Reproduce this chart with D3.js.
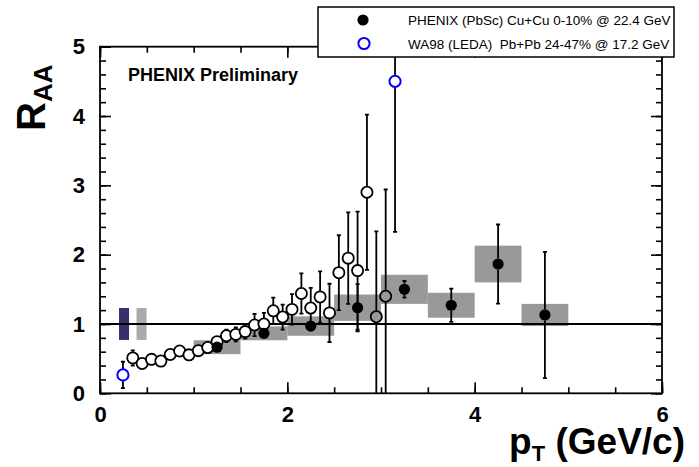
<!DOCTYPE html>
<html>
<head>
<meta charset="utf-8">
<script src="https://cdn.jsdelivr.net/npm/d3@7"></script>
<style>
  html, body { margin: 0; padding: 0; background: #fff; }
  svg { display: block; font-family: "Liberation Sans", Arial, Helvetica, sans-serif; }
</style>
</head>
<body>
<svg id="chart" width="699" height="467"></svg>
<script>
// PHENIX pi0 R_AA, Cu+Cu 0-10% at 22.4 GeV (filled), with systematic boxes
const phenixPt   = [1.25, 1.75, 2.25, 2.75, 3.25, 3.75, 4.25, 4.75];
const phenixRaa  = [0.665, 0.865, 0.97, 1.235, 1.50, 1.27, 1.865, 1.13];
const phenixStat = [0.03, 0.03, 0.04, 0.34, 0.12, 0.24, 0.57, 0.91];
const phenixSys  = [0.10, 0.10, 0.14, 0.19, 0.21, 0.18, 0.265, 0.16];
const phenixBinHalfWidth = 0.25;

// Open-circle reference points
const openPt   = [0.35, 0.45, 0.55, 0.65, 0.75, 0.85, 0.95, 1.05, 1.15, 1.25, 1.35, 1.45, 1.55, 1.65, 1.75,
                  1.85, 1.95, 2.05, 2.15, 2.25, 2.35, 2.45, 2.55, 2.65, 2.75, 2.85];
const openRaa  = [0.51, 0.43, 0.49, 0.465, 0.56, 0.61, 0.555, 0.615, 0.66, 0.745, 0.83, 0.85, 0.89, 0.985, 1.0,
                  1.19, 1.10, 1.21, 1.44, 1.23, 1.39, 1.16, 1.74, 1.95, 1.77, 2.90];
const openErr  = [0.11, 0.03, 0.03, 0.03, 0.03, 0.03, 0.03, 0.04, 0.05, 0.06, 0.09, 0.10, 0.10, 0.16, 0.16,
                  0.19, 0.18, 0.22, 0.29, 0.29, 0.37, 0.42, 0.54, 0.66, 0.85, 1.12];
// last two open points, drawn hollow
const openTailPt  = [2.95, 3.05];
const openTailRaa = [1.105, 1.40];
const openTailErr = [1.23, 1.54];

// WA98 (LEDA) Pb+Pb 24-47% at 17.2 GeV (blue)
const wa98Pt  = [0.245, 3.15];
const wa98Raa = [0.265, 4.50];
const wa98Err = [0.19, 2.17];

// normalisation uncertainties drawn at R_AA = 1
const normErr = [0.23, 0.23];

const xTicks = [0, 2, 4, 6];
const yTicks = [0, 1, 2, 3, 4, 5];
const legendLabels = [
  "PHENIX (PbSc) Cu+Cu 0-10% @ 22.4 GeV",
  "WA98 (LEDA)  Pb+Pb 24-47% @ 17.2 GeV"
];

const svg = d3.select("#chart");
const L = 100, R = 662, T = 46.7, B = 393.3;
const x = d3.scaleLinear().domain([0, 6]).range([L, R]);
const y = d3.scaleLinear().domain([0, 5]).range([B, T]);

svg.append("defs").append("clipPath").attr("id", "plotClip")
  .append("rect").attr("x", L).attr("y", T).attr("width", R - L).attr("height", B - T);

const plot = svg.append("g").attr("clip-path", "url(#plotClip)");

// systematic boxes
plot.append("g").selectAll("rect").data(phenixPt).join("rect")
  .attr("x", d => x(d - phenixBinHalfWidth))
  .attr("width", d => x(d + phenixBinHalfWidth) - x(d - phenixBinHalfWidth))
  .attr("y", (d, i) => y(phenixRaa[i] + phenixSys[i]))
  .attr("height", (d, i) => y(phenixRaa[i] - phenixSys[i]) - y(phenixRaa[i] + phenixSys[i]))
  .attr("fill", "#999999");

// normalisation boxes
const normX = [[0.203, 0.31], [0.39, 0.497]];
const normCol = ["#3b2c6b", "#aaaaaa"];
plot.append("g").selectAll("rect").data(normErr).join("rect")
  .attr("x", (d, i) => x(normX[i][0]))
  .attr("width", (d, i) => x(normX[i][1]) - x(normX[i][0]))
  .attr("y", d => y(1 + d))
  .attr("height", d => y(1 - d) - y(1 + d))
  .attr("fill", (d, i) => normCol[i]);

// reference line at R_AA = 1
plot.append("line")
  .attr("x1", x(0)).attr("x2", x(6)).attr("y1", y(1)).attr("y2", y(1))
  .attr("stroke", "#000").attr("stroke-width", 2.2);

const rad = 5.6;
function errorBars(g, xs, ys, es, color) {
  const grp = g.append("g").attr("stroke", color).attr("stroke-width", 1.8);
  xs.forEach((xv, i) => {
    const cx = x(xv), top = y(ys[i] + es[i]), bot = y(ys[i] - es[i]), cy = y(ys[i]);
    if (cy - top > rad) grp.append("line").attr("x1", cx).attr("x2", cx).attr("y1", top).attr("y2", cy - rad);
    if (bot - cy > rad) grp.append("line").attr("x1", cx).attr("x2", cx).attr("y1", cy + rad).attr("y2", bot);
    grp.append("line").attr("x1", cx - 2).attr("x2", cx + 2).attr("y1", top).attr("y2", top);
    grp.append("line").attr("x1", cx - 2).attr("x2", cx + 2).attr("y1", bot).attr("y2", bot);
  });
}

errorBars(plot, openPt, openRaa, openErr, "#000");
errorBars(plot, openTailPt, openTailRaa, openTailErr, "#000");
errorBars(plot, phenixPt, phenixRaa, phenixStat, "#000");
errorBars(plot, wa98Pt, wa98Raa, wa98Err, "#000");

plot.append("g").selectAll("circle").data(openPt).join("circle")
  .attr("cx", d => x(d)).attr("cy", (d, i) => y(openRaa[i])).attr("r", rad)
  .attr("fill", "#fff").attr("stroke", "#000").attr("stroke-width", 1.8);

plot.append("g").selectAll("circle").data(openTailPt).join("circle")
  .attr("cx", d => x(d)).attr("cy", (d, i) => y(openTailRaa[i])).attr("r", rad)
  .attr("fill", "none").attr("stroke", "#000").attr("stroke-width", 1.8);

plot.append("g").selectAll("circle").data(phenixPt).join("circle")
  .attr("cx", d => x(d)).attr("cy", (d, i) => y(phenixRaa[i])).attr("r", rad)
  .attr("fill", "#000");

plot.append("g").selectAll("circle").data(wa98Pt).join("circle")
  .attr("cx", d => x(d)).attr("cy", (d, i) => y(wa98Raa[i])).attr("r", rad)
  .attr("fill", "#fff").attr("stroke", "#0000ff").attr("stroke-width", 2);

// axes with inward ticks
const minorX = d3.range(0, 6.001, 0.5);
const minorY = d3.range(0, 5.001, 0.2);
function styleAxis(g) {
  g.select(".domain").remove();
  g.selectAll(".tick line").attr("stroke", "#000").attr("stroke-width", 1.6);
}
svg.append("g").attr("transform", `translate(0,${B})`)
  .call(d3.axisBottom(x).tickValues(minorX).tickSize(-6).tickFormat(""))
  .call(styleAxis);
svg.append("g").attr("transform", `translate(0,${B})`)
  .call(d3.axisBottom(x).tickValues(xTicks).tickSize(-11).tickFormat(d3.format("d")).tickPadding(13))
  .call(styleAxis)
  .call(g => g.selectAll("text").attr("font-size", 22).attr("font-weight", "bold").attr("fill", "#000")
    .attr("font-family", "Liberation Sans, Arial, sans-serif"));
svg.append("g").attr("transform", `translate(0,${T})`)
  .call(d3.axisTop(x).tickValues(minorX).tickSize(-6).tickFormat(""))
  .call(styleAxis);
svg.append("g").attr("transform", `translate(0,${T})`)
  .call(d3.axisTop(x).tickValues(xTicks).tickSize(-11).tickFormat(""))
  .call(styleAxis);
svg.append("g").attr("transform", `translate(${L},0)`)
  .call(d3.axisLeft(y).tickValues(minorY).tickSize(-6).tickFormat(""))
  .call(styleAxis);
svg.append("g").attr("transform", `translate(${L},0)`)
  .call(d3.axisLeft(y).tickValues(yTicks).tickSize(-11).tickFormat(d3.format("d")).tickPadding(15))
  .call(styleAxis)
  .call(g => g.selectAll("text").attr("font-size", 22).attr("font-weight", "bold").attr("fill", "#000")
    .attr("font-family", "Liberation Sans, Arial, sans-serif"));
svg.append("g").attr("transform", `translate(${R},0)`)
  .call(d3.axisRight(y).tickValues(minorY).tickSize(-6).tickFormat(""))
  .call(styleAxis);
svg.append("g").attr("transform", `translate(${R},0)`)
  .call(d3.axisRight(y).tickValues(yTicks).tickSize(-11).tickFormat(""))
  .call(styleAxis);

// frame
svg.append("rect").attr("x", L).attr("y", T).attr("width", R - L).attr("height", B - T)
  .attr("fill", "none").attr("stroke", "#000").attr("stroke-width", 1.8);

// axis titles
const xt = svg.append("text").attr("x", 685).attr("y", 454).attr("text-anchor", "end")
  .attr("font-size", 37).attr("font-weight", "bold");
xt.append("tspan").text("p");
xt.append("tspan").attr("font-size", 22).attr("dy", 7).text("T");
xt.append("tspan").attr("dy", -7).text("\u00a0(GeV/c)");

const yt = svg.append("text").attr("transform", "translate(45,131) rotate(-90)")
  .attr("font-size", 40).attr("font-weight", "bold");
yt.append("tspan").text("R");
yt.append("tspan").attr("font-size", 26).attr("dy", 7).text("AA");

svg.append("text").attr("x", 128).attr("y", 81).attr("font-size", 18).attr("font-weight", "bold")
  .text("PHENIX Preliminary");

// legend
const lg = svg.append("g");
lg.append("rect").attr("x", 318).attr("y", 7).attr("width", 356).attr("height", 50)
  .attr("fill", "#fff").attr("stroke", "#000").attr("stroke-width", 1.5);
lg.append("circle").attr("cx", 363).attr("cy", 20).attr("r", rad).attr("fill", "#000");
lg.append("circle").attr("cx", 364).attr("cy", 43.5).attr("r", rad)
  .attr("fill", "#fff").attr("stroke", "#0000ff").attr("stroke-width", 2);
lg.selectAll("text.lab").data(legendLabels).join("text").attr("class", "lab")
  .attr("x", 408).attr("y", (d, i) => 25 + i * 23.5)
  .attr("font-size", 13.5).attr("xml:space", "preserve").style("white-space", "pre")
  .text(d => d);
</script>
</body>
</html>
